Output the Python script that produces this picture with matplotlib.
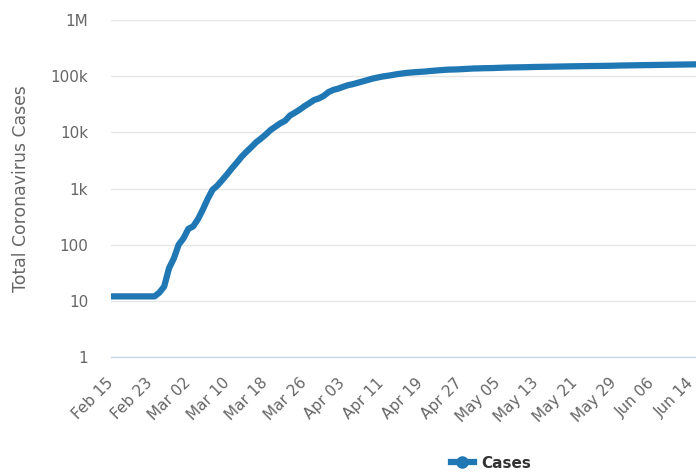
import matplotlib
matplotlib.use('Agg')
import matplotlib.pyplot as plt
from matplotlib.lines import Line2D
import pandas as pd

# Total cases, daily from Feb 15 to Jun 15
start_date = '2020-02-15'
cases_feb = [12, 12, 12, 12, 12, 12, 12, 12, 12, 12,
             14, 18, 38, 57, 100]
cases_mar = [130, 191, 212, 285, 423, 653, 949, 1126, 1412, 1784,
             2281, 2876, 3661, 4499, 5423, 6633, 7730, 9134, 10995, 12612,
             14459, 16018, 19856, 22302, 25233, 29155, 32964, 37575, 40174, 44550,
             52128]
cases_apr = [57000, 60000, 64500, 69000, 72000, 76000, 80500, 85000, 90000, 94000,
             98000, 101000, 104000, 108000, 111000, 114000, 116000, 118000, 119500, 121000,
             123500, 125500, 127500, 129500, 131000, 131500, 132500, 134000, 135500, 137000]
cases_may = [137500, 138500, 139000, 139500, 140500, 141500, 142500, 143000, 143500, 144000,
             144500, 145500, 146000, 146500, 147000, 147500, 148000, 148500, 149000, 149500,
             150000, 150500, 151000, 151500, 151800, 152000, 152500, 153000, 153500, 154500,
             155000]
cases_jun = [155500, 156000, 156500, 157000, 157500, 158000, 158500, 159000, 159500, 160000,
             160500, 161000, 161500, 162000, 162300]

cases = cases_feb + cases_mar + cases_apr + cases_may + cases_jun
dates = pd.date_range(start_date, periods=len(cases), freq='D')

y_ticks = [1, 10, 100, 1000, 10000, 100000, 1000000]
y_labels = ['1', '10', '100', '1k', '10k', '100k', '1M']

plt.rcParams['font.family'] = ['DejaVu Sans']

fig = plt.figure(figsize=(6.96, 4.73), dpi=100)
ax = fig.add_axes([111 / 696, 1 - 357 / 473, 585 / 696, 337 / 473])

line_color = '#1f77b4'
ax.plot(dates, cases, color=line_color, linewidth=4.5, solid_capstyle='round',
        solid_joinstyle='round', zorder=3)

ax.set_yscale('log')
ax.set_ylim(1, 1e6)
ax.set_yticks(y_ticks)
ax.set_yticklabels(y_labels)
ax.minorticks_off()
ax.set_xlim(dates[0], dates[-1])

tick_dates = dates[::8]
ax.set_xticks(tick_dates)
ax.set_xticklabels([d.strftime('%b %d') for d in tick_dates])

ax.grid(axis='y', color='#e6e6e6', linewidth=1)
ax.set_axisbelow(True)
for side in ['left', 'right', 'top']:
    ax.spines[side].set_visible(False)
ax.spines['bottom'].set_color('#ccd6eb')
ax.spines['bottom'].set_linewidth(1)

ax.tick_params(axis='y', length=0, pad=16.5, labelsize=11, labelcolor='#666666')
ax.tick_params(axis='x', length=0, pad=17, labelsize=11, labelcolor='#666666')
for lbl in ax.get_xticklabels():
    lbl.set_rotation(45)
    lbl.set_ha('right')
    lbl.set_va('center')
    lbl.set_rotation_mode('anchor')

fig.text(21.5 / 696, 1 - 189 / 473, 'Total Coronavirus Cases', rotation=90,
         ha='center', va='center', fontsize=12.4, color='#666666')

handle = Line2D([], [], color=line_color, linewidth=4.5, marker='o', markersize=8)
leg = fig.legend([handle], ['Cases'], loc='center', bbox_to_anchor=(491 / 696, 1 - 463 / 473),
                 frameon=False, handlelength=1.5, handletextpad=0.5,
                 prop={'weight': 'bold', 'size': 11})
for txt in leg.get_texts():
    txt.set_color('#333333')

fig.savefig('out.png', dpi=100)
